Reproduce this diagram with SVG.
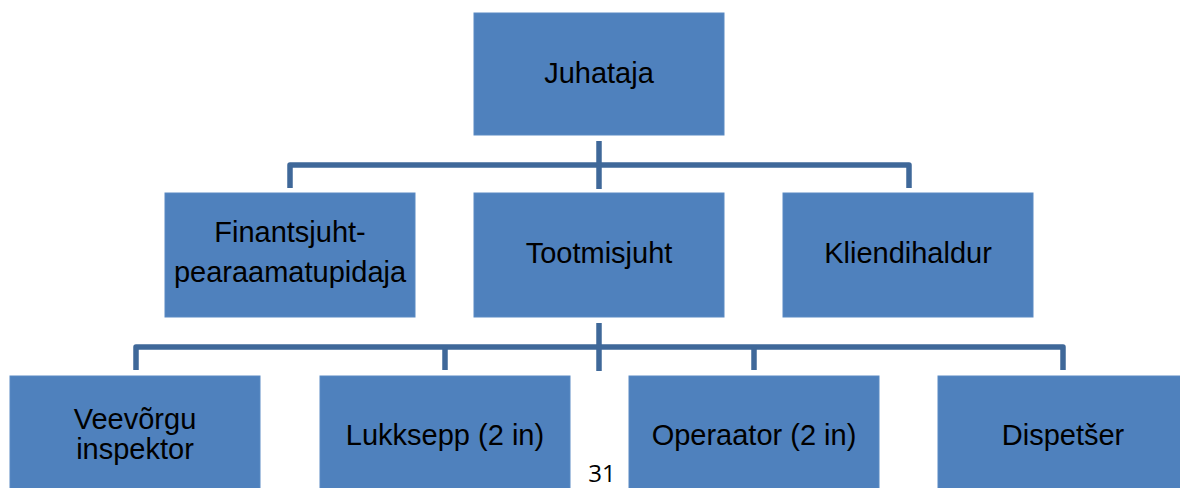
<svg xmlns="http://www.w3.org/2000/svg" width="1180" height="488" viewBox="0 0 1180 488">
<style>
.box{fill:#4F81BD;stroke:#5a8ac3;stroke-width:1}
.lbl{font-family:"Liberation Sans",Arial,sans-serif;font-size:29px;fill:#000;text-anchor:middle}
.conn{fill:none;stroke:#3F6899;stroke-width:5.5;stroke-linejoin:round;stroke-linecap:butt}
.pg{font-family:"Open Sans","Noto Sans",sans-serif;font-size:24px;fill:#000;text-anchor:middle}
</style>
<rect width="1180" height="488" fill="#fff"/>
<g id="connectors">
<path class="conn" d="M290,188 V165 H909 V188"/>
<path class="conn" d="M599,141 V189"/>
<path class="conn" d="M136,370 V347 H1063 V370"/>
<path class="conn" d="M445,347 V370"/>
<path class="conn" d="M754,347 V370"/>
<path class="conn" d="M599,323 V371"/>
</g>
<g id="juhataja"><rect class="box" x="474" y="13" width="250" height="122"/><text class="lbl" x="599" y="83">Juhataja</text></g>
<g id="finantsjuht"><rect class="box" x="165" y="193" width="250" height="124"/><text class="lbl" x="290" y="242">Finantsjuht-</text><text class="lbl" x="290" y="282">pearaamatupidaja</text></g>
<g id="tootmisjuht"><rect class="box" x="474" y="193" width="250" height="124"/><text class="lbl" x="599" y="263">Tootmisjuht</text></g>
<g id="kliendihaldur"><rect class="box" x="783" y="193" width="250" height="124"/><text class="lbl" x="908" y="263">Kliendihaldur</text></g>
<g id="veevorgu"><rect class="box" x="10" y="376" width="250" height="120"/><text class="lbl" x="135" y="429">Veevõrgu</text><text class="lbl" x="135" y="459">inspektor</text></g>
<g id="lukksepp"><rect class="box" x="320" y="376" width="250" height="120"/><text class="lbl" x="445" y="445">Lukksepp (2 in)</text></g>
<g id="operaator"><rect class="box" x="629" y="376" width="250" height="120"/><text class="lbl" x="754" y="445">Operaator (2 in)</text></g>
<g id="dispetser"><rect class="box" x="938" y="376" width="250" height="120"/><text class="lbl" x="1063" y="445">Dispetšer</text></g>
<text class="pg" x="602" y="482">31</text>
</svg>
